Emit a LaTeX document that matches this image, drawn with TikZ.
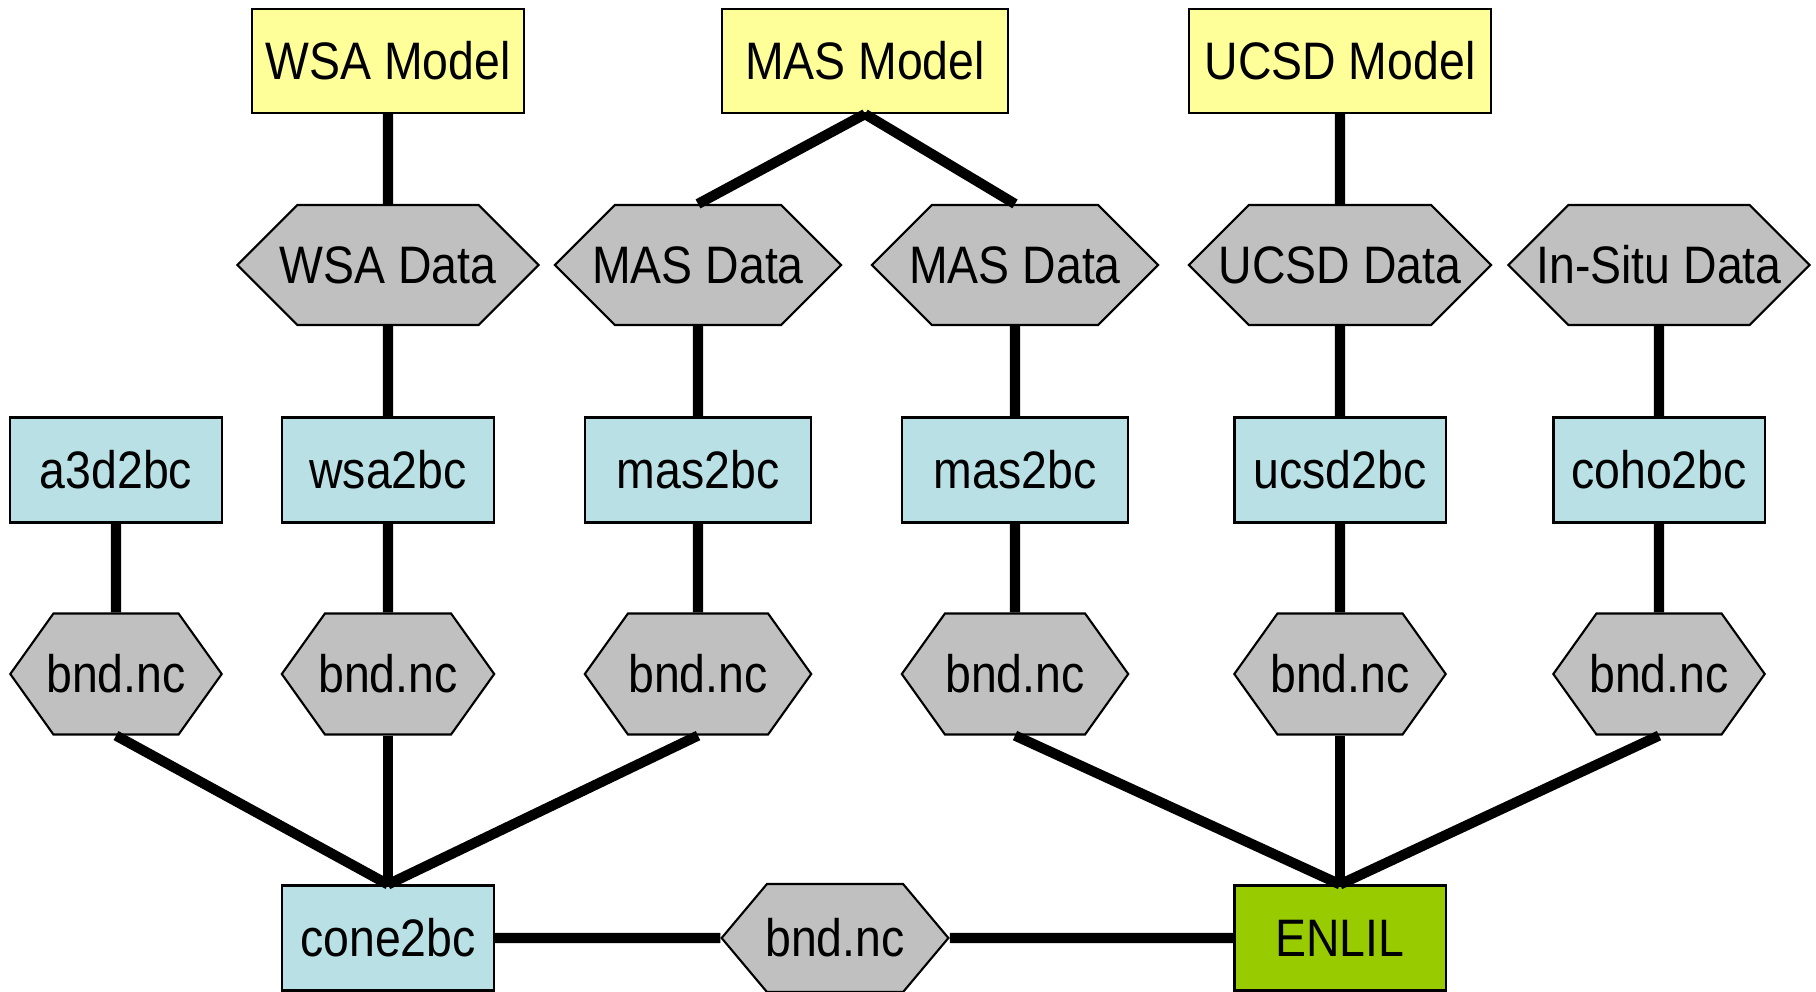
\documentclass[tikz,border=0pt]{standalone}
\usepackage{fontspec}
\setmainfont{Liberation Sans}[FakeStretch=0.88]
\usepackage{tikz}
\usetikzlibrary{shapes.symbols}

\definecolor{modelyellow}{RGB}{255,255,153}
\definecolor{progcyan}{RGB}{185,224,228}
\definecolor{filegray}{RGB}{192,192,192}
\definecolor{enlilgreen}{RGB}{153,204,0}

\begin{document}
\begin{tikzpicture}[
    x=0.01cm, y=-0.01cm,
    every node/.style={draw, inner sep=0pt, line width=0.6pt,
                       font=\fontsize{15}{18}\selectfont},
    model/.style={rectangle, fill=modelyellow, minimum height=1.04cm},
    prog/.style={rectangle, fill=progcyan, minimum height=1.05cm},
    % body width fixed, text may run into the pointed ends
    hexbody/.style={signal, signal to=east and west, fill=filegray,
                    execute at begin node={\hbox to #1\bgroup\hss},
                    execute at end node={\hss\egroup}},
    data/.style={hexbody=#1, signal pointer angle=90, minimum height=1.2cm},
    ncfile/.style={hexbody=#1, signal pointer angle=109, minimum height=1.21cm},
    link/.style={draw, line width=2.9pt}
  ]
  \useasboundingbox (0,0) rectangle (1816,991);

  % models
  \node[model, minimum width=2.72cm] (wsamodel) at (388,61) {WSA Model};
  \node[model, minimum width=2.86cm] (masmodel) at (865,61) {MAS Model};
  \node[model, minimum width=3.02cm] (ucsdmodel) at (1340,61) {UCSD Model};

  % data sets
  \node[data=1.81cm] (wsadata) at (388,265) {WSA Data};
  \node[data=1.66cm] (masdataA) at (698,265) {MAS Data};
  \node[data=1.66cm] (masdataB) at (1015,265) {MAS Data};
  \node[data=1.82cm] (ucsddata) at (1340,265) {UCSD Data};
  \node[data=1.81cm] (insitu) at (1659,265) {In-Situ Data};

  % converters
  \node[prog, minimum width=2.11cm] (a3d) at (116,470) {a3d2bc};
  \node[prog, minimum width=2.12cm] (wsa2bc) at (388,470) {wsa2bc};
  \node[prog, minimum width=2.26cm] (masA) at (698,470) {mas2bc};
  \node[prog, minimum width=2.26cm] (masB) at (1015,470) {mas2bc};
  \node[prog, minimum width=2.11cm] (ucsd2bc) at (1340,470) {ucsd2bc};
  \node[prog, minimum width=2.11cm] (coho) at (1659,470) {coho2bc};

  % boundary files
  \node[ncfile=1.25cm] (ncA) at (116,674) {bnd.nc};
  \node[ncfile=1.26cm] (ncB) at (388,674) {bnd.nc};
  \node[ncfile=1.40cm] (ncC) at (698,674) {bnd.nc};
  \node[ncfile=1.40cm] (ncD) at (1015,674) {bnd.nc};
  \node[ncfile=1.25cm] (ncE) at (1340,674) {bnd.nc};
  \node[ncfile=1.25cm] (ncF) at (1659,674) {bnd.nc};

  % bottom row
  \node[prog, minimum width=2.11cm] (cone) at (388,938) {cone2bc};
  \node[ncfile=1.36cm, signal pointer angle=100, minimum height=1.08cm]
    (ncmid) at (835,938) {bnd.nc};
  \node[prog, fill=enlilgreen, minimum width=2.11cm] (enlil) at (1340,938) {ENLIL};

  % connectors
  \draw[link] (wsamodel) -- (wsadata);
  \draw[link] (masmodel.south) -- (masdataA.north);
  \draw[link] (masmodel.south) -- (masdataB.north);
  \draw[link] (ucsdmodel) -- (ucsddata);

  \draw[link] (wsadata) -- (wsa2bc);
  \draw[link] (masdataA) -- (masA);
  \draw[link] (masdataB) -- (masB);
  \draw[link] (ucsddata) -- (ucsd2bc);
  \draw[link] (insitu) -- (coho);

  \draw[link] (a3d) -- (ncA);
  \draw[link] (wsa2bc) -- (ncB);
  \draw[link] (masA) -- (ncC);
  \draw[link] (masB) -- (ncD);
  \draw[link] (ucsd2bc) -- (ncE);
  \draw[link] (coho) -- (ncF);

  \draw[link] (ncA.south) -- (cone.north);
  \draw[link] (ncB.south) -- (cone.north);
  \draw[link] (ncC.south) -- (cone.north);
  \draw[link] (ncD.south) -- (enlil.north);
  \draw[link] (ncE.south) -- (enlil.north);
  \draw[link] (ncF.south) -- (enlil.north);

  \draw[link] (cone) -- (ncmid);
  \draw[link] (ncmid) -- (enlil);
\end{tikzpicture}
\end{document}
